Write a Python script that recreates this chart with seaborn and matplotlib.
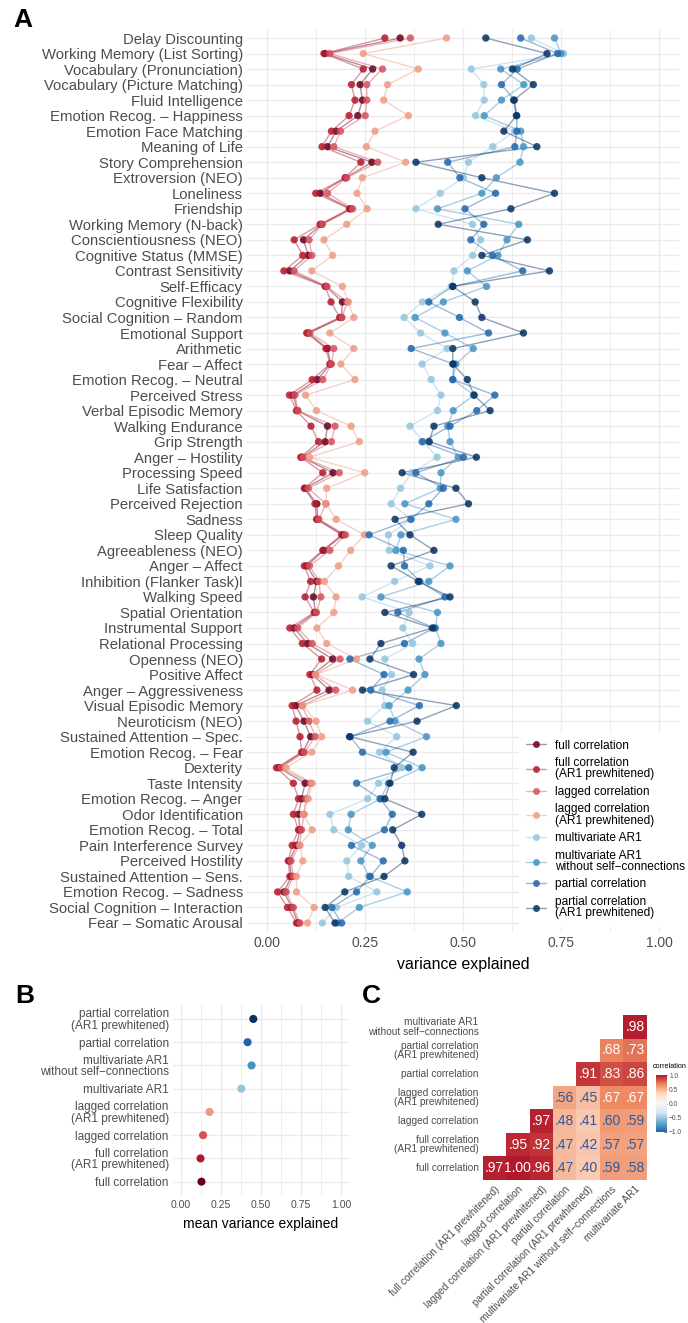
import numpy as np
import pandas as pd
import matplotlib
matplotlib.use("Agg")
import matplotlib.pyplot as plt
import seaborn as sns
from matplotlib.lines import Line2D
from matplotlib.colors import LinearSegmentedColormap, to_rgba

# ---------------- data ----------------
measures = [
    "Delay Discounting", "Working Memory (List Sorting)", "Vocabulary (Pronunciation)",
    "Vocabulary (Picture Matching)", "Fluid Intelligence", "Emotion Recog. – Happiness",
    "Emotion Face Matching", "Meaning of Life", "Story Comprehension", "Extroversion (NEO)",
    "Loneliness", "Friendship", "Working Memory (N-back)", "Conscientiousness (NEO)",
    "Cognitive Status (MMSE)", "Contrast Sensitivity", "Self-Efficacy", "Cognitive Flexibility",
    "Social Cognition – Random", "Emotional Support", "Arithmetic", "Fear – Affect",
    "Emotion Recog. – Neutral", "Perceived Stress", "Verbal Episodic Memory", "Walking Endurance",
    "Grip Strength", "Anger – Hostility", "Processing Speed", "Life Satisfaction",
    "Perceived Rejection", "Sadness", "Sleep Quality", "Agreeableness (NEO)", "Anger – Affect",
    "Inhibition (Flanker Task)l", "Walking Speed", "Spatial Orientation", "Instrumental Support",
    "Relational Processing", "Openness (NEO)", "Positive Affect", "Anger – Aggressiveness",
    "Visual Episodic Memory", "Neuroticism (NEO)", "Sustained Attention – Spec.",
    "Emotion Recog. – Fear", "Dexterity", "Taste Intensity", "Emotion Recog. – Anger",
    "Odor Identification", "Emotion Recog. – Total", "Pain Interference Survey",
    "Perceived Hostility", "Sustained Attention – Sens.", "Emotion Recog. – Sadness",
    "Social Cognition – Interaction", "Fear – Somatic Arousal",
]

full_corr = [0.340, 0.149, 0.270, 0.238, 0.244, 0.232, 0.177, 0.155, 0.268, 0.201,
             0.136, 0.214, 0.140, 0.094, 0.106, 0.059, 0.151, 0.193, 0.190, 0.106,
             0.155, 0.163, 0.129, 0.068, 0.078, 0.155, 0.149, 0.090, 0.169, 0.098,
             0.128, 0.130, 0.195, 0.145, 0.102, 0.127, 0.119, 0.124, 0.070, 0.104,
             0.168, 0.117, 0.159, 0.074, 0.095, 0.112, 0.092, 0.031, 0.098, 0.089,
             0.081, 0.085, 0.076, 0.058, 0.063, 0.044, 0.064, 0.080]
full_corr_ar1 = [0.301, 0.146, 0.246, 0.216, 0.225, 0.210, 0.165, 0.141, 0.240, 0.200,
                 0.125, 0.211, 0.136, 0.070, 0.092, 0.044, 0.149, 0.164, 0.186, 0.102,
                 0.151, 0.161, 0.116, 0.058, 0.076, 0.113, 0.132, 0.087, 0.143, 0.096,
                 0.123, 0.127, 0.191, 0.143, 0.096, 0.112, 0.098, 0.121, 0.059, 0.091,
                 0.140, 0.110, 0.128, 0.065, 0.075, 0.085, 0.089, 0.025, 0.068, 0.081,
                 0.068, 0.081, 0.065, 0.055, 0.059, 0.028, 0.053, 0.076]
lagged_corr = [0.366, 0.161, 0.295, 0.255, 0.255, 0.251, 0.188, 0.171, 0.283, 0.204,
               0.155, 0.219, 0.142, 0.108, 0.115, 0.070, 0.154, 0.205, 0.192, 0.110,
               0.171, 0.165, 0.143, 0.072, 0.080, 0.174, 0.165, 0.093, 0.185, 0.106,
               0.151, 0.133, 0.201, 0.161, 0.109, 0.133, 0.138, 0.127, 0.079, 0.116,
               0.187, 0.123, 0.176, 0.090, 0.108, 0.124, 0.096, 0.037, 0.112, 0.100,
               0.095, 0.089, 0.083, 0.062, 0.068, 0.050, 0.068, 0.085]
lagged_corr_ar1 = [0.458, 0.246, 0.386, 0.308, 0.298, 0.361, 0.276, 0.254, 0.354, 0.244,
                   0.230, 0.256, 0.204, 0.146, 0.168, 0.115, 0.193, 0.208, 0.222, 0.161,
                   0.222, 0.189, 0.225, 0.099, 0.127, 0.215, 0.236, 0.109, 0.250, 0.153,
                   0.151, 0.177, 0.249, 0.214, 0.183, 0.147, 0.177, 0.171, 0.128, 0.153,
                   0.229, 0.125, 0.219, 0.092, 0.126, 0.140, 0.115, 0.049, 0.116, 0.106,
                   0.093, 0.116, 0.085, 0.092, 0.076, 0.076, 0.121, 0.104]
mvar1 = [0.674, 0.756, 0.521, 0.553, 0.554, 0.532, 0.632, 0.576, 0.514, 0.501,
         0.442, 0.380, 0.524, 0.545, 0.525, 0.477, 0.470, 0.397, 0.350, 0.392,
         0.460, 0.396, 0.419, 0.444, 0.435, 0.365, 0.400, 0.434, 0.370, 0.341,
         0.317, 0.369, 0.310, 0.312, 0.416, 0.326, 0.243, 0.363, 0.347, 0.372,
         0.301, 0.318, 0.294, 0.301, 0.257, 0.331, 0.287, 0.344, 0.285, 0.257,
         0.161, 0.171, 0.242, 0.204, 0.209, 0.281, 0.178, 0.142]
mvar1_noself = [0.733, 0.750, 0.596, 0.655, 0.598, 0.554, 0.647, 0.654, 0.645, 0.585,
                0.548, 0.435, 0.642, 0.612, 0.589, 0.511, 0.560, 0.450, 0.378, 0.454,
                0.526, 0.482, 0.474, 0.528, 0.475, 0.461, 0.467, 0.488, 0.444, 0.442,
                0.352, 0.482, 0.342, 0.329, 0.467, 0.413, 0.291, 0.435, 0.430, 0.444,
                0.388, 0.403, 0.360, 0.312, 0.327, 0.407, 0.304, 0.396, 0.310, 0.290,
                0.215, 0.208, 0.269, 0.240, 0.261, 0.358, 0.236, 0.180]
partial_corr = [0.647, 0.741, 0.638, 0.598, 0.631, 0.637, 0.637, 0.632, 0.461, 0.492,
                0.583, 0.505, 0.553, 0.520, 0.575, 0.652, 0.474, 0.413, 0.491, 0.565,
                0.368, 0.476, 0.474, 0.581, 0.535, 0.467, 0.396, 0.501, 0.380, 0.450,
                0.413, 0.367, 0.261, 0.348, 0.351, 0.390, 0.454, 0.334, 0.427, 0.351,
                0.212, 0.299, 0.265, 0.389, 0.314, 0.213, 0.244, 0.362, 0.229, 0.289,
                0.320, 0.300, 0.216, 0.297, 0.264, 0.229, 0.166, 0.191]
partial_corr_ar1 = [0.558, 0.714, 0.626, 0.679, 0.629, 0.636, 0.604, 0.688, 0.380, 0.548,
                    0.733, 0.622, 0.437, 0.664, 0.548, 0.720, 0.474, 0.531, 0.548, 0.654,
                    0.474, 0.474, 0.511, 0.528, 0.569, 0.426, 0.414, 0.534, 0.345, 0.482,
                    0.514, 0.327, 0.365, 0.426, 0.317, 0.386, 0.467, 0.301, 0.422, 0.291,
                    0.263, 0.374, 0.244, 0.483, 0.383, 0.211, 0.373, 0.325, 0.314, 0.301,
                    0.395, 0.321, 0.344, 0.352, 0.299, 0.199, 0.149, 0.174]

methods = ["full correlation", "full correlation\n(AR1 prewhitened)", "lagged correlation",
           "lagged correlation\n(AR1 prewhitened)", "multivariate AR1",
           "multivariate AR1\nwithout self\u2212connections", "partial correlation",
           "partial correlation\n(AR1 prewhitened)"]
series = [full_corr, full_corr_ar1, lagged_corr, lagged_corr_ar1,
          mvar1, mvar1_noself, partial_corr, partial_corr_ar1]
colors = ["#67001F", "#B2182B", "#D6505E", "#EE9A82", "#92C5DE", "#4393C3", "#2166AC", "#053061"]

# panel B: mean variance explained (same order as methods)
mean_explained = [0.128, 0.122, 0.138, 0.178, 0.377, 0.441, 0.416, 0.452]

# panel C: correlation between methods
c_rows = ["multivariate AR1\nwithout self\u2212connections", "partial correlation\n(AR1 prewhitened)",
          "partial correlation", "lagged correlation\n(AR1 prewhitened)", "lagged correlation",
          "full correlation\n(AR1 prewhitened)", "full correlation"]
c_cols = ["full correlation (AR1 prewhitened)", "lagged correlation",
          "lagged correlation (AR1 prewhitened)", "partial correlation",
          "partial correlation (AR1 prewhitened)", "multivariate AR1 without self\u2212connections",
          "multivariate AR1"]
nan = np.nan
corr_vals = [
    [nan, nan, nan, nan, nan, nan, 0.98],
    [nan, nan, nan, nan, nan, 0.68, 0.73],
    [nan, nan, nan, nan, 0.91, 0.83, 0.86],
    [nan, nan, nan, 0.56, 0.45, 0.67, 0.67],
    [nan, nan, 0.97, 0.48, 0.41, 0.60, 0.59],
    [nan, 0.95, 0.92, 0.47, 0.42, 0.57, 0.57],
    [0.97, 1.00, 0.96, 0.47, 0.40, 0.59, 0.58],
]

# ---------------- style ----------------
sns.set_theme(style="white")
plt.rcParams["font.family"] = ["Liberation Sans", "DejaVu Sans"]
GRID = "#EBEBEB"
TXT = "#4D4D4D"

W, H = 688, 1323
fig = plt.figure(figsize=(W / 100, H / 100), dpi=100)


def box(x0, y0, x1, y1):
    return [x0 / W, 1 - y1 / H, (x1 - x0) / W, (y1 - y0) / H]


def style_grid(ax):
    for s in ax.spines.values():
        s.set_visible(False)
    ax.set_axisbelow(True)
    ax.grid(which="major", color=GRID, lw=1.0)
    ax.grid(which="minor", axis="x", color=GRID, lw=0.6)
    ax.tick_params(which="both", length=0, colors=TXT)


# ---------------- panel A ----------------
axA = fig.add_axes(box(247, 28.7, 679, 932.3))
rows = np.arange(len(measures))
df = pd.DataFrame({
    "row": np.tile(rows, len(methods)),
    "method": np.repeat(methods, len(measures)),
    "value": np.concatenate([np.asarray(s) for s in series]),
})
pal = dict(zip(methods, colors))
sns.lineplot(data=df, x="value", y="row", hue="method", hue_order=methods, palette=pal,
             estimator=None, sort=False, orient="y", alpha=0.45, linewidth=1.0,
             legend=False, ax=axA)
sns.scatterplot(data=df, x="value", y="row", hue="method", hue_order=methods, palette=pal,
                s=28, alpha=0.85, linewidth=0, legend=False, ax=axA, zorder=3)
axA.set_xlim(-0.05, 1.05)
axA.set_ylim(len(measures) - 0.4, -0.6)
axA.set_yticks(rows)
axA.set_yticklabels(measures, fontsize=10.7, color=TXT)
axA.set_xticks([0, 0.25, 0.5, 0.75, 1.0])
axA.set_xticklabels(["0.00", "0.25", "0.50", "0.75", "1.00"], fontsize=10, color=TXT)
axA.set_xticks([0.125, 0.375, 0.625, 0.875], minor=True)
style_grid(axA)
axA.tick_params(axis="y", pad=3)
axA.tick_params(axis="x", pad=2.5)
axA.set_xlabel("variance explained", fontsize=11.4, color="black", labelpad=5.5)
axA.set_ylabel("")

handles = [Line2D([0], [0], color=to_rgba(c, 0.45), lw=1.0, marker="o", markersize=5,
                  markerfacecolor=to_rgba(c, 0.85), markeredgewidth=0) for c in colors]
leg = fig.legend(handles, methods, loc="upper left", bbox_to_anchor=(519 / W, 1 - 733 / H),
                 frameon=True, facecolor="white", edgecolor="white", framealpha=1,
                 fontsize=8.6, labelspacing=0.45, handlelength=1.7, handletextpad=0.8,
                 borderpad=0.55, borderaxespad=0)
for t in leg.get_texts():
    t.set_linespacing(0.95)
    t.set_color("black")

fig.text(13 / W, 1 - 8 / H, "A", fontsize=19, fontweight="bold", va="top", ha="left",
         color="black")

# ---------------- panel B ----------------
axB = fig.add_axes(box(173, 1005, 349, 1195.6))
posB = np.arange(len(methods))
sns.scatterplot(x=mean_explained, y=posB, hue=methods, hue_order=methods, palette=pal,
                s=34, linewidth=0, legend=False, ax=axB, zorder=3)
axB.set_xlim(-0.05, 1.05)
axB.set_ylim(-0.6, len(methods) - 0.4)
axB.set_yticks(posB)
axB.set_yticklabels(methods, fontsize=8.5, color=TXT, linespacing=0.95)
axB.set_xticks([0, 0.25, 0.5, 0.75, 1.0])
axB.set_xticklabels(["0.00", "0.25", "0.50", "0.75", "1.00"], fontsize=7.6, color=TXT)
axB.set_xticks([0.125, 0.375, 0.625, 0.875], minor=True)
style_grid(axB)
axB.tick_params(axis="y", pad=3)
axB.tick_params(axis="x", pad=3.5)
axB.set_xlabel("mean variance explained", fontsize=10, color="black", labelpad=4.5)
fig.text(15 / W, 1 - 984 / H, "B", fontsize=19, fontweight="bold", va="top", ha="left",
         color="black")

# ---------------- panel C ----------------
axC = fig.add_axes(box(482.7, 1015, 646.7, 1180))
cax = fig.add_axes(box(656, 1075, 667, 1132))
cmap = LinearSegmentedColormap.from_list(
    "rdbu7", ["#2166AC", "#67A9CF", "#D1E5F0", "#F7F7F7", "#FDDBC7", "#EF8A62", "#B2182B"])
mat = np.array(corr_vals, dtype=float)
annot = np.array([[("" if np.isnan(v) else f"{v:.2f}".lstrip("0")) for v in r] for r in mat])
sns.heatmap(mat, mask=np.isnan(mat), cmap=cmap, vmin=-1, vmax=1, annot=annot, fmt="",
            annot_kws={"fontsize": 10}, linewidths=0, ax=axC, cbar_ax=cax,
            xticklabels=c_cols, yticklabels=c_rows)
for t in axC.texts:
    txt = t.get_text()
    try:
        v = float(txt)
    except ValueError:
        continue
    t.set_color("white" if v > 0.65 else "#2A5A9E")
axC.tick_params(length=0, colors=TXT)
axC.set_yticklabels(c_rows, rotation=0, fontsize=7.3, color=TXT, linespacing=0.95)
axC.set_xticklabels(c_cols, rotation=45, ha="right", rotation_mode="anchor",
                    fontsize=7.3, color=TXT)
axC.tick_params(axis="y", pad=3)
axC.tick_params(axis="x", pad=3)
cax.tick_params(length=2, colors=TXT, labelsize=4.8, width=0.5, direction="in", pad=1.5)
cax.set_yticks([-1, -0.5, 0, 0.5, 1])
cax.set_yticklabels(["\u22121.0", "\u22120.5", "0.0", "0.5", "1.0"])
for s in cax.spines.values():
    s.set_visible(False)
fig.text(653 / W, 1 - 1070 / H, "correlation", fontsize=5.2, color="black", ha="left",
         va="bottom")
fig.text(362 / W, 1 - 984 / H, "C", fontsize=19, fontweight="bold", va="top", ha="left",
         color="black")

fig.savefig("out.png", dpi=100, facecolor="white")
